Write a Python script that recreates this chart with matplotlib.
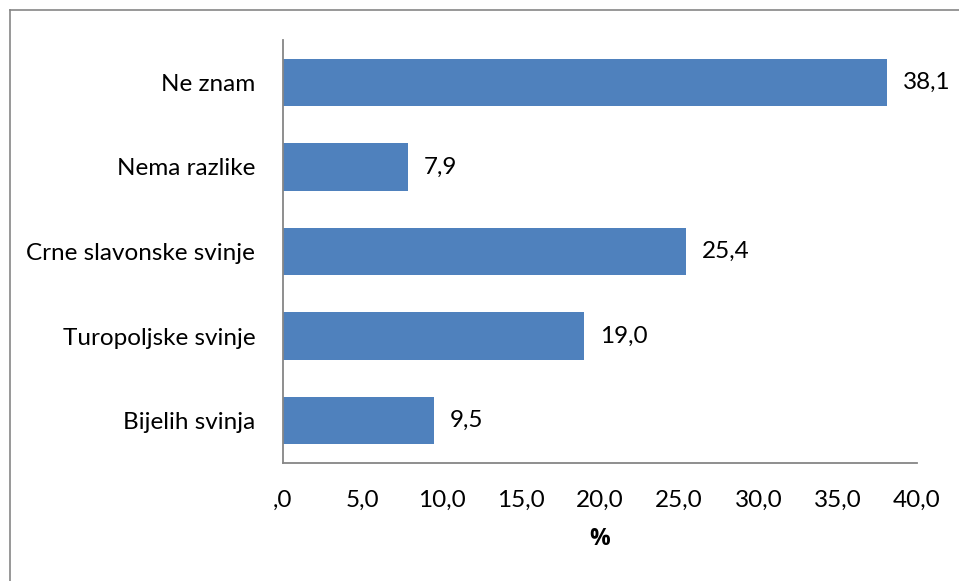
import matplotlib
matplotlib.use("Agg")
import matplotlib.pyplot as plt
from matplotlib.lines import Line2D
from matplotlib.ticker import FuncFormatter

categories = ["Bijelih svinja", "Turopoljske svinje", "Crne slavonske svinje", "Nema razlike", "Ne znam"]
values = [9.5, 19.0, 25.4, 7.9, 38.1]
xticks = [0, 5, 10, 15, 20, 25, 30, 35, 40]

plt.rcParams['font.family'] = ['Lato', 'DejaVu Sans']
FS = 17.5

fig = plt.figure(figsize=(9.59, 5.81), dpi=100)
ax = fig.add_axes([283/959, 1-463/581, (917-283)/959, (463-40)/581])

ypos = list(range(len(categories)))
ax.barh(ypos, values, height=0.56, color='#4F81BD')
for y, v in zip(ypos, values):
    ax.text(v + 1.0, y, f"{v:.1f}".replace('.', ','), va='center', ha='left', fontsize=FS, color='black')

def fmt(x, pos):
    s = f"{x:.1f}".replace('.', ',')
    if s.startswith('0,'):
        s = s[1:]
    return s

ax.set_xlim(0, 40)
ax.set_ylim(-0.5, len(categories) - 0.5)
ax.set_xticks(xticks)
ax.xaxis.set_major_formatter(FuncFormatter(fmt))
ax.set_yticks(ypos)
ax.set_yticklabels(categories)
ax.tick_params(axis='both', length=0, labelsize=FS, colors='black')
ax.tick_params(axis='x', pad=19)
ax.tick_params(axis='y', pad=20)
for s in ['top', 'right']:
    ax.spines[s].set_visible(False)
for s in ['left', 'bottom']:
    ax.spines[s].set_color('#868686')
    ax.spines[s].set_linewidth(1.3)
ax.set_xlabel('%', fontsize=FS - 1, fontweight='bold', family=['Open Sans', 'DejaVu Sans'], labelpad=12)

# outer chart border (left and top visible)
fig.add_artist(Line2D([10/959, 10/959], [0, 1-10/581], color='#868686', lw=1.2, transform=fig.transFigure))
fig.add_artist(Line2D([10/959, 1], [1-10/581, 1-10/581], color='#868686', lw=1.2, transform=fig.transFigure))

fig.savefig('out.png', dpi=100)
